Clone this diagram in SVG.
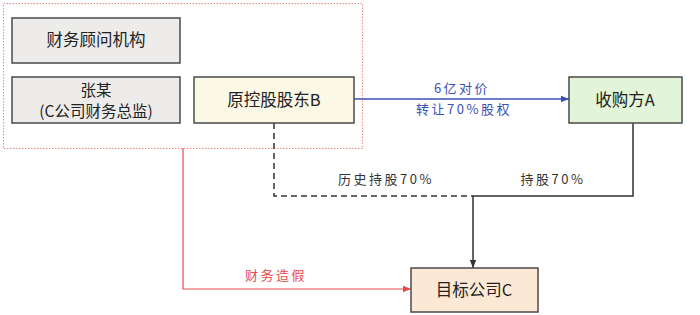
<svg xmlns="http://www.w3.org/2000/svg" width="700" height="315" viewBox="0 0 700 315">
<style>
.n{stroke:#4a4a4a;stroke-width:1.5}
.t{font-family:"Noto Sans CJK SC","Noto Sans",sans-serif;font-size:16.5px;fill:#222;text-anchor:middle}
.s{font-size:15.5px}
.l{font-family:"Noto Sans CJK SC","Noto Sans",sans-serif;font-size:13px;text-anchor:middle;letter-spacing:2.5px}
</style>
<defs>
<marker id="ab" viewBox="0 0 10 10" refX="10" refY="5" markerWidth="8" markerHeight="8" orient="auto" markerUnits="userSpaceOnUse"><path d="M0,1 L10,5 L0,9 z" fill="#3c50b4"/></marker>
<marker id="ak" viewBox="0 0 10 10" refX="10" refY="5" markerWidth="8" markerHeight="8" orient="auto" markerUnits="userSpaceOnUse"><path d="M0,1 L10,5 L0,9 z" fill="#333"/></marker>
<marker id="ar" viewBox="0 0 10 10" refX="10" refY="5" markerWidth="8" markerHeight="8" orient="auto" markerUnits="userSpaceOnUse"><path d="M0,1 L10,5 L0,9 z" fill="#e84a4a"/></marker>
</defs>
<rect x="3.5" y="3.5" width="359" height="145" fill="none" stroke="#ef8a8a" stroke-width="1" stroke-dasharray="1.5,1.5"/>
<g id="connectors" fill="none">
<path d="M354,99 H569" stroke="#3c50b4" stroke-width="1.3" marker-end="url(#ab)"/>
<path d="M274,123 V196 H473" stroke="#333" stroke-width="1.5" stroke-dasharray="6,4"/>
<path d="M633,123 V196 H473 V268" stroke="#333" stroke-width="1.5" marker-end="url(#ak)"/>
<path d="M183,148 V289 H411" stroke="#e84a4a" stroke-width="1.2" marker-end="url(#ar)"/>
<text class="l" x="462" y="93" fill="#3c50b4">6亿对价</text>
<text class="l" x="464" y="114" fill="#3c50b4">转让70%股权</text>
<text class="l" x="386" y="184" fill="#333">历史持股70%</text>
<text class="l" x="553" y="184" fill="#333">持股70%</text>
<text class="l" x="276" y="280" fill="#e84a4a">财务造假</text>
</g>
<g id="n1"><rect class="n" x="12" y="18" width="168" height="45" fill="#eeeceb"/><text class="t" x="96" y="46">财务顾问机构</text></g>
<g id="n2"><rect class="n" x="12" y="77" width="168" height="46" fill="#eeeceb"/><text class="t s" x="96" y="96">张某</text><text class="t s" x="96" y="117">(C公司财务总监)</text></g>
<g id="n3"><rect class="n" x="194" y="77" width="160" height="46" fill="#fbf8e6"/><text class="t" x="274" y="106">原控股股东B</text></g>
<g id="n4"><rect class="n" x="569" y="77" width="113" height="46" fill="#e2f5d8"/><text class="t" x="625" y="106">收购方A</text></g>
<g id="n5"><rect class="n" x="411" y="268" width="127" height="44" fill="#fbe8d5"/><text class="t" x="474" y="296">目标公司C</text></g>
</svg>
